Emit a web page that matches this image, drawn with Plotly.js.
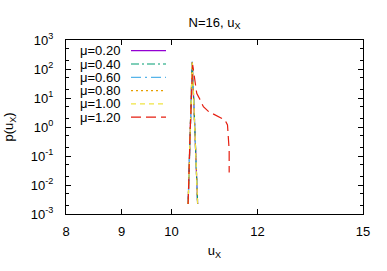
<!DOCTYPE html>
<html>
<head>
<meta charset="utf-8">
<script src="https://cdn.plot.ly/plotly-3.0.1.min.js"></script>
<style>html,body{margin:0;padding:0;background:#fff;}#chart{width:387px;height:271px;}</style>
</head>
<body>
<div id="chart"></div>
<script>
// ---- data ----
const seriesNames = ['μ=0.20', 'μ=0.40', 'μ=0.60', 'μ=0.80', 'μ=1.00', 'μ=1.20'];
const xNarrow = [10.36, 10.40, 10.45, 10.51, 10.57];
const y020 = [0.0022, 0.5, 175, 0.7, 0.0022];
const y040 = [0.0022, 0.5, 170, 0.7, 0.0022];
const y060 = [0.0022, 0.5, 180, 0.7, 0.0022];
const y080 = [0.0022, 0.5, 185, 0.7, 0.0022];
const y100 = [0.0022, 0.5, 178, 0.7, 0.0022];
const x120 = [10.36, 10.40, 10.46, 10.51, 10.55, 10.63, 10.70, 10.82, 10.93, 11.00, 11.05, 11.13, 11.20, 11.26, 11.28, 11.30, 11.30];
const y120 = [0.0022, 0.45, 138, 36.5, 14.5, 8.5, 5.0, 3.4, 2.8, 2.6, 2.4, 2.0, 1.74, 1.17, 0.46, 0.16, 0.027];
const xTickVals = [8, 9, 10, 12, 15];
const xTickText = ['8', '9', '10', '12', '15'];
const yTickVals = [1e-3, 1e-2, 1e-1, 1e0, 1e1, 1e2, 1e3];
const yTickText = ['10<sup>-3</sup>', '10<sup>-2</sup>', '10<sup>-1</sup>', '10<sup>0</sup>', '10<sup>1</sup>', '10<sup>2</sup>', '10<sup>3</sup>'];

// ---- styles ----
const colors = ['#9400d3', '#009e73', '#56b4e9', '#e69f00', '#f0e442', '#e51e10'];
const dashes = ['solid', '8px,3px,2px,3px', '10px,4px,2px,4px', '2px,3px', '5px,4px', '10px,5px'];

const xs = [xNarrow, xNarrow, xNarrow, xNarrow, xNarrow, x120];
const ys = [y020, y040, y060, y080, y100, y120];

const traces = seriesNames.map((n, i) => ({
  x: xs[i], y: ys[i], name: n, type: 'scatter', mode: 'lines',
  line: {color: colors[i], width: 1.2, dash: dashes[i]}
}));

// plot-area geometry in px
const L = 66, R = 363, T = 40, B = 214, W = 387, H = 271;
const px2x = p => (p - L) / (R - L);
const px2y = p => (B - p) / (B - T);

const annotations = [];
const shapes = [];
seriesNames.forEach((n, i) => {
  const py = 50.7 + i * 13.3;
  annotations.push({
    text: n, xref: 'paper', yref: 'paper', x: px2x(122), y: px2y(py),
    xanchor: 'right', yanchor: 'middle', showarrow: false,
    font: {size: 13, color: '#000'}
  });
  shapes.push({
    type: 'line', xref: 'paper', yref: 'paper',
    x0: px2x(131), x1: px2x(166), y0: px2y(py), y1: px2y(py),
    line: {color: colors[i], width: 1.2, dash: dashes[i]}
  });
});

const layout = {
  width: W, height: H,
  margin: {l: L, r: W - R, t: T, b: H - B, pad: 0},
  paper_bgcolor: '#fff', plot_bgcolor: '#fff',
  font: {family: 'Liberation Sans, Arial, sans-serif', size: 13, color: '#000'},
  title: {text: 'N=16, u<sub>X</sub>', x: 0.5, xref: 'paper', xanchor: 'center',
          y: 1 - 22 / H, yref: 'container', yanchor: 'middle', font: {size: 13}},
  showlegend: false,
  xaxis: {
    type: 'log', range: [Math.log10(8), Math.log10(15)],
    tickmode: 'array', tickvals: xTickVals, ticktext: xTickText,
    ticks: 'inside', ticklen: 5, tickcolor: '#000', showline: true, mirror: 'ticks',
    linecolor: '#000', linewidth: 1, showgrid: false, zeroline: false,
    ticklabelstandoff: 5,
    title: {text: 'u<sub>X</sub>', standoff: 8, font: {size: 13}}
  },
  yaxis: {
    type: 'log', range: [-3, 3],
    tickmode: 'array', tickvals: yTickVals, ticktext: yTickText,
    ticks: 'inside', ticklen: 5, tickcolor: '#000', showline: true, mirror: 'ticks',
    linecolor: '#000', linewidth: 1, showgrid: false, zeroline: false,
    ticklabelstandoff: 9,
    minor: {ticks: 'inside', ticklen: 3, tickcolor: '#000', showgrid: false},
    title: {text: 'p(u<sub>X</sub>)', standoff: 14, font: {size: 13}}
  },
  annotations: annotations,
  shapes: shapes
};

Plotly.newPlot('chart', traces, layout, {staticPlot: true, displayModeBar: false});
</script>
</body>
</html>
